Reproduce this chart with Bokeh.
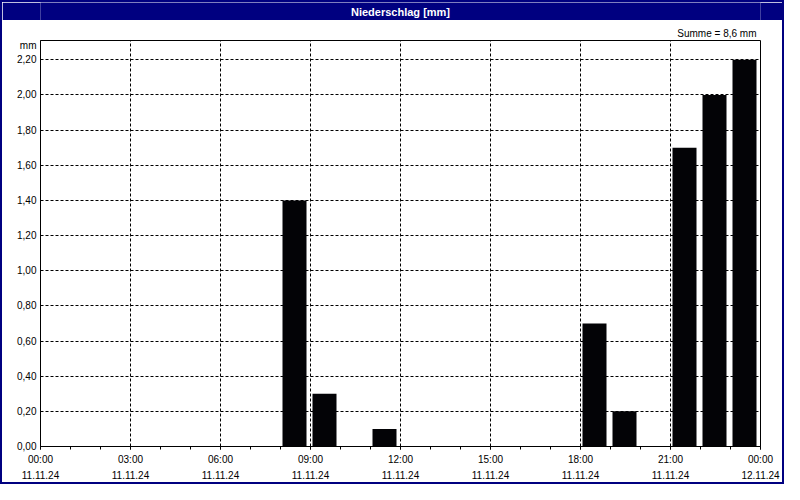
from bokeh.plotting import figure
from bokeh.models import Range1d, FixedTicker, LinearAxis, Label, Title
from bokeh.layouts import column
from bokeh.embed import file_html
from bokeh.resources import INLINE

# ---- data ----
title = "Niederschlag [mm]"
unit = "mm"
hours = [8, 9, 11, 18, 19, 21, 22, 23]          # start hour of each hourly sum
rain = [1.4, 0.3, 0.1, 0.7, 0.2, 1.7, 2.0, 2.2]  # mm
x_ticks = [0, 3, 6, 9, 12, 15, 18, 21, 24]
time_labels = ["00:00", "03:00", "06:00", "09:00", "12:00", "15:00", "18:00", "21:00", "00:00"]
date_labels = ["11.11.24", "11.11.24", "11.11.24", "11.11.24", "11.11.24",
               "11.11.24", "11.11.24", "11.11.24", "12.11.24"]
y_ticks = [0.0, 0.2, 0.4, 0.6, 0.8, 1.0, 1.2, 1.4, 1.6, 1.8, 2.0, 2.2]
y_labels = ["0,00", "0,20", "0,40", "0,60", "0,80", "1,00", "1,20", "1,40",
            "1,60", "1,80", "2,00", "2,20"]
y_top = 2.31

FONT = "Liberation Sans"
NAVY = "#000080"
FS = "10px"

# ---- title bar ----
top = figure(width=780, height=18, x_range=(0, 1), y_range=(0, 1),
             toolbar_location=None, output_backend="svg",
             x_axis_location=None, y_axis_location=None, min_border=0)
top.grid.visible = False
top.background_fill_color = NAVY
top.border_fill_color = NAVY
top.outline_line_color = None
top.add_layout(Label(x=0.5, y=0.5, text=title, text_align="center",
                     text_baseline="middle", text_color="white",
                     text_font=FONT, text_font_size="11px", text_font_style="bold"))

# ---- main chart ----
p = figure(width=780, height=462, x_range=Range1d(0, 24), y_range=Range1d(0, y_top),
           toolbar_location=None, output_backend="svg",
           min_border_left=38, min_border_right=22, min_border_top=20, min_border_bottom=36)
p.background_fill_color = "white"
p.border_fill_color = "white"
p.outline_line_color = "black"
p.outline_line_width = 1

p.quad(left=[h + 1 / 15 for h in hours], right=[h + 13 / 15 for h in hours],
       bottom=0, top=rain, fill_color="#030306", line_color=None)

# x axis (times)
xa = p.xaxis[0]
xa.ticker = FixedTicker(ticks=x_ticks, minor_ticks=list(range(25)))
xa.major_label_overrides = dict(zip(x_ticks, time_labels))
xa.major_tick_in = 0
xa.major_tick_out = 3
xa.minor_tick_in = 0
xa.minor_tick_out = 3
xa.major_label_standoff = 4
xa.axis_line_color = "black"
xa.major_tick_line_color = "black"
xa.minor_tick_line_color = "black"
xa.major_label_text_font = FONT
xa.major_label_text_font_size = FS
xa.major_label_text_color = "black"

# second x axis (dates)
xa2 = LinearAxis(ticker=FixedTicker(ticks=x_ticks),
                 major_label_overrides=dict(zip(x_ticks, date_labels)),
                 axis_line_color=None, major_tick_line_color=None,
                 minor_tick_line_color=None, major_tick_in=0, major_tick_out=0,
                 major_label_standoff=3, major_label_text_font=FONT,
                 major_label_text_font_size=FS, major_label_text_color="black")
p.add_layout(xa2, "below")

# y axis (unit shown as a label just under the top of the axis)
unit_y = y_top - 0.03
ya = p.yaxis[0]
ya.ticker = FixedTicker(ticks=y_ticks + [unit_y])
ya.major_label_overrides = dict(zip(y_ticks + [unit_y], y_labels + [unit]))
ya.major_tick_in = 0
ya.major_tick_out = 0
ya.minor_tick_line_color = None
ya.major_label_standoff = 4
ya.axis_line_color = "black"
ya.major_label_text_font = FONT
ya.major_label_text_font_size = FS
ya.major_label_text_color = "black"

# grids
p.xgrid.ticker = FixedTicker(ticks=x_ticks[1:-1])
p.ygrid.ticker = FixedTicker(ticks=y_ticks[1:])
for g in (p.xgrid[0], p.ygrid[0]):
    g.grid_line_color = "black"
    g.grid_line_dash = "3 2"
    g.grid_line_width = 1

# sum of precipitation, top right
total = sum(rain)
p.add_layout(Title(text="Summe = " + f"{total:.1f}".replace(".", ",") + " mm",
                   align="right", offset=4, standoff=4, text_font=FONT,
                   text_font_size=FS, text_font_style="normal", text_color="black"),
             "above")

layout = column(top, p, styles={"border": "2px solid #000080"})

open("out.html", "w").write(file_html(layout, INLINE))
